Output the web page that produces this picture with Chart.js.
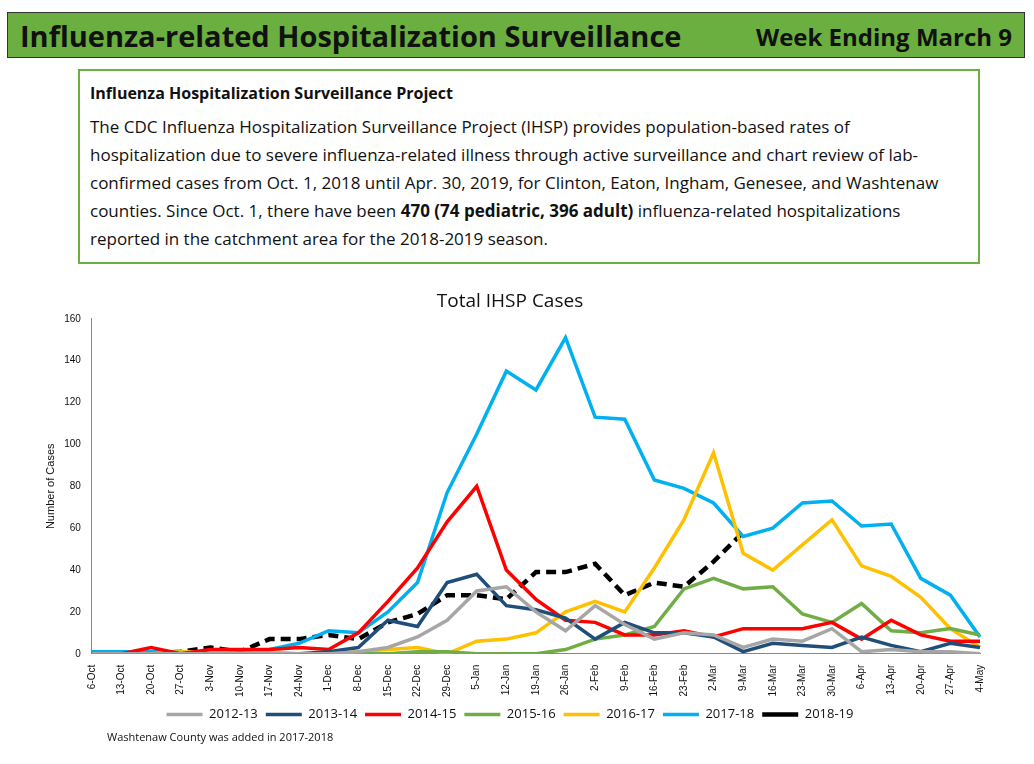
<!DOCTYPE html>
<html><head><meta charset="utf-8">
<script src="https://cdn.jsdelivr.net/npm/chart.js@4.4.1"></script>
<style>
body{margin:0;width:1034px;height:764px;background:#fff;font-family:"Open Sans",sans-serif;position:relative;overflow:hidden}
#hdr{position:absolute;left:7px;top:12px;width:1018px;height:46px;background:#6aaf3f;border:1px solid #333;box-sizing:border-box}
#hdr .t{position:absolute;left:12px;top:3px;font-size:29px;font-weight:bold;color:#111}
#hdr .w{position:absolute;right:12px;top:7px;font-size:24px;font-weight:bold;color:#111}
#box{position:absolute;left:78px;top:69px;width:902px;height:195px;border:2px solid #6aaf3f;box-sizing:border-box;padding:8px 10px;font-size:17px;line-height:28px;color:#111}
#box h4{margin:0 0 6px 0;font-size:16px}
#c{position:absolute;left:40px;top:286px}
#note{position:absolute;left:107px;top:729px;font-size:11px;color:#111}
</style></head><body>
<div id="hdr"><span class="t">Influenza-related Hospitalization Surveillance</span><span class="w">Week Ending March 9</span></div>
<div id="box"><h4>Influenza Hospitalization Surveillance Project</h4>The CDC Influenza Hospitalization Surveillance Project (IHSP) provides population-based rates of hospitalization due to severe influenza-related illness through active surveillance and chart review of lab-confirmed cases from Oct. 1, 2018 until Apr. 30, 2019, for Clinton, Eaton, Ingham, Genesee, and Washtenaw counties. Since Oct. 1, there have been <b>470 (74 pediatric, 396 adult)</b> influenza-related hospitalizations reported in the catchment area for the 2018-2019 season.</div>
<div id="c"><canvas id="cv" width="960" height="445"></canvas></div>
<div id="note">Washtenaw County was added in 2017-2018</div>
<script>
var weeks = ['6-Oct','13-Oct','20-Oct','27-Oct','3-Nov','10-Nov','17-Nov','24-Nov','1-Dec','8-Dec','15-Dec','22-Dec','29-Dec','5-Jan','12-Jan','19-Jan','26-Jan','2-Feb','9-Feb','16-Feb','23-Feb','2-Mar','9-Mar','16-Mar','23-Mar','30-Mar','6-Apr','13-Apr','20-Apr','27-Apr','4-May'];
var s1213 = [0,0,0,0,0,0,0,0,0,1,3,8,16,30,32,20,11,23,14,7,10,9,3,7,6,12,1,2,1,1,0];
var s1314 = [0,0,0,0,0,0,0,0,1,3,16,13,34,38,23,21,17,7,15,10,10,8,1,5,4,3,8,4,1,5,3];
var s1415 = [0,0,3,0,2,2,2,3,2,10,25,41,63,80,40,26,16,15,9,9,11,8,12,12,12,15,7,16,9,6,6];
var s1516 = [0,0,0,0,0,0,0,0,0,0,0,1,1,0,0,0,2,7,9,13,31,36,31,32,19,15,24,11,10,12,9];
var s1617 = [0,0,0,1,1,0,1,0,0,1,2,3,0,6,7,10,20,25,20,41,64,96,48,40,52,64,42,37,27,12,3];
var s1718 = [1,1,1,1,1,1,2,5,11,10,20,34,77,105,135,126,151,113,112,83,79,72,56,60,72,73,61,62,36,28,8];
var s1819 = [0,0,0,1,3,1,7,7,9,7,15,19,28,28,26,39,39,43,28,34,32,44,58];

function ds(label, data, color, dash) {
  return { label: label, data: data, borderColor: color, backgroundColor: color,
    borderWidth: dash ? 4.5 : 3.5, borderDash: dash ? [10, 6] : [], pointRadius: 0, tension: 0, fill: false };
}

new Chart(document.getElementById('cv'), {
  type: 'line',
  data: {
    labels: weeks,
    datasets: [
      ds('2012-13', s1213, '#a6a6a6'),
      ds('2013-14', s1314, '#1f4e79'),
      ds('2014-15', s1415, '#ff0000'),
      ds('2015-16', s1516, '#70ad47'),
      ds('2016-17', s1617, '#ffc000'),
      ds('2017-18', s1718, '#00b0f0'),
      ds('2018-19', s1819, '#000000', true)
    ]
  },
  options: {
    responsive: false, animation: false,
    layout: { padding: { right: 20 } },
    plugins: {
      title: { display: true, text: 'Total IHSP Cases', color: '#111', font: { family: 'Open Sans', size: 19, weight: 'normal' }, padding: { top: 4, bottom: 6 } },
      legend: { position: 'bottom', labels: { usePointStyle: true, pointStyle: 'line', pointStyleWidth: 36, color: '#111', font: { family: 'Open Sans', size: 13 }, padding: 8 } },
      tooltip: { enabled: false }
    },
    scales: {
      x: { offset: false, grid: { display: false, drawTicks: true }, border: { color: '#888' },
        ticks: { color: '#111', font: { size: 10 }, maxRotation: 90, minRotation: 90, autoSkip: false } },
      y: { min: 0, max: 160, grid: { display: false }, border: { color: '#888' },
        title: { display: true, text: 'Number of Cases', color: '#111', font: { size: 11 } },
        ticks: { stepSize: 20, color: '#111', font: { size: 10 } } }
    }
  }
});
</script>
</body></html>
